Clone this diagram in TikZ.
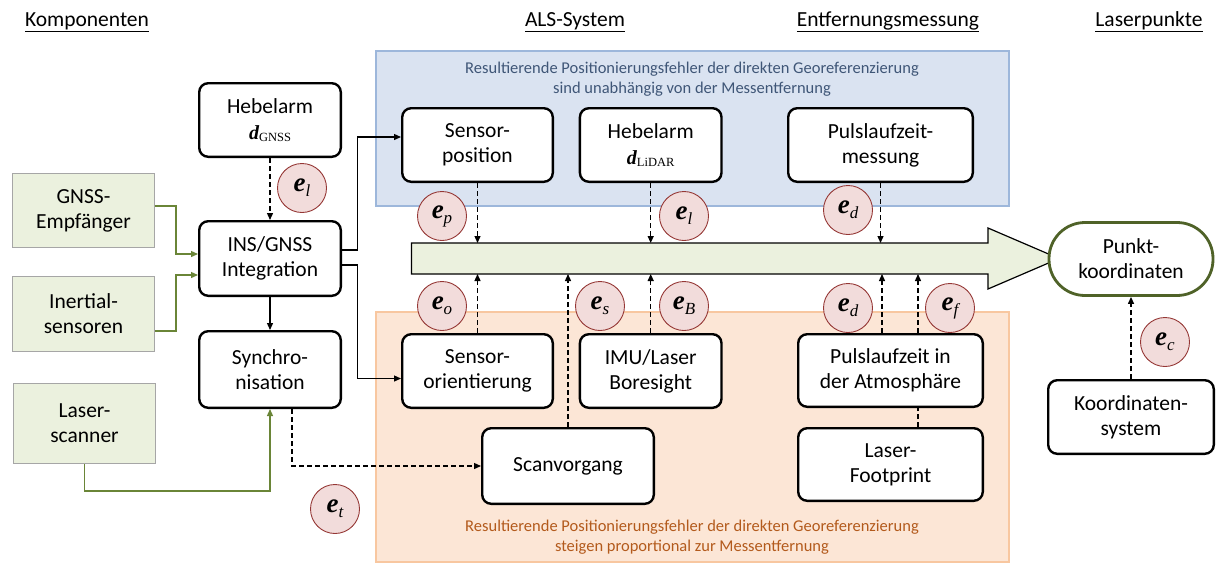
\documentclass[tikz,border=0pt]{standalone}
\usepackage{fontspec}
\setmainfont{Carlito}
\newfontfamily\serifm{Liberation Serif}
\usetikzlibrary{arrows.meta}
\definecolor{bluefill}{HTML}{DAE3F1}
\definecolor{blueline}{HTML}{9DB7DB}
\definecolor{bluetext}{HTML}{3F5677}
\definecolor{orfill}{HTML}{FCE6D6}
\definecolor{orline}{HTML}{F8C7A0}
\definecolor{ortext}{HTML}{B35A1C}
\definecolor{gfill}{HTML}{EBF1DE}
\definecolor{gline}{HTML}{A6A6A6}
\definecolor{garrow}{HTML}{6A8537}
\definecolor{pline}{HTML}{4F6228}
\definecolor{errfill}{HTML}{F2DCDB}
\definecolor{errline}{HTML}{953735}
\newcommand\mainfs{\fontsize{21.5}{25}\selectfont}
\newcommand\notefs{\fontsize{16.5}{20}\selectfont}
\newcommand\dsym[2]{{\serifm\fontsize{20}{20}\selectfont\bfseries\itshape #1}\raisebox{-2pt}{\serifm\fontsize{12.5}{12.5}\selectfont #2}}
\newcommand\esym[1]{{\serifm\fontsize{27}{27}\selectfont\bfseries\itshape e}\raisebox{-5pt}{\serifm\fontsize{17}{17}\selectfont\itshape #1}}
\begin{document}
\begin{tikzpicture}[x=1pt,y=-1pt,
  box/.style={draw=black, line width=2.4pt, rounded corners=9pt, fill=white, align=center, inner sep=0pt, font=\mainfs},
  gbox/.style={draw=gline, line width=1.2pt, fill=gfill, align=center, inner sep=0pt, font=\mainfs},
  err/.style={circle, draw=errline, line width=0.9pt, fill=errfill, minimum size=49pt, inner sep=0pt},
  conn/.style={line width=1.3pt, -{Triangle[length=7pt,width=6pt]}},
  dconn/.style={conn, dash pattern=on 5pt off 3pt},
  plain/.style={line width=1.3pt, dash pattern=on 5pt off 3pt},
  gconn/.style={conn, draw=garrow},
  head/.style={font=\mainfs, anchor=base}]
\useasboundingbox (0,0) rectangle (1216,563);

% regions
\draw[fill=bluefill, draw=blueline, line width=1.2pt] (376,51) rectangle (1009,206);
\draw[fill=orfill, draw=orline, line width=1.2pt] (376,312) rectangle (1009,562);
\node[font=\notefs, text=bluetext, align=center] (bluenote) at (692,79)
  {Resultierende Positionierungsfehler der direkten Georeferenzierung\\sind unabhängig von der Messentfernung};
\node[font=\notefs, text=ortext, align=center] (ornote) at (692,537)
  {Resultierende Positionierungsfehler der direkten Georeferenzierung\\steigen proportional zur Messentfernung};

% headings
\node[head] (h1) at (87,26) {\underline{Komponenten}};
\node[head] (h2) at (575,26) {\underline{ALS-System}};
\node[head] (h3) at (888,26) {\underline{Entfernungsmessung}};
\node[head] (h4) at (1149,26) {\underline{Laserpunkte}};

% big arrow
\draw[fill=gfill, draw=black, line width=1.2pt]
  (411.5,243) -- (988,243) -- (988,228) -- (1059,258.5) -- (988,289) -- (988,274) -- (411.5,274) -- cycle;
\coordinate (bodyT) at (0,243);
\coordinate (bodyB) at (0,274);

% component boxes
\node[gbox, minimum width=142, minimum height=74] (gnss) at (83.5,210.5) {GNSS-\\Empfänger};
\node[gbox, minimum width=142, minimum height=75] (iner) at (83.5,314) {Inertial-\\sensoren};
\node[gbox, minimum width=142, minimum height=80] (laser) at (84.5,423.5) {Laser-\\scanner};

\node[box, minimum width=141.6, minimum height=73.6] (hgnss) at (270,120) {Hebelarm\\[1pt]\dsym{d}{GNSS}};
\node[box, minimum width=141.6, minimum height=74.6] (ins) at (270,258.5) {INS/GNSS\\Integration};
\node[box, minimum width=141.6, minimum height=76.6] (sync) at (270,369.5) {Synchro-\\nisation};

\node[box, minimum width=150.6, minimum height=73.6] (spos) at (477.5,145) {Sensor-\\position};
\node[box, minimum width=141.6, minimum height=73.6] (hlidar) at (650.7,145) {Hebelarm\\[1pt]\dsym{d}{LiDAR}};
\node[box, minimum width=184.6, minimum height=73.6] (puls) at (880.5,145) {Pulslaufzeit-\\messung};

\node[box, minimum width=150.6, minimum height=73.6] (sori) at (477.5,371) {Sensor-\\orientierung};
\node[box, minimum width=141.6, minimum height=73.6] (imu) at (650.7,371) {IMU/Laser\\Boresight};
\node[box, minimum width=184.6, minimum height=72.6] (atm) at (890.5,370.5) {Pulslaufzeit in\\der Atmosphäre};
\node[box, minimum width=184.6, minimum height=72.6] (foot) at (890.5,464.5) {Laser-\\Footprint};
\node[box, minimum width=171.6, minimum height=75.6] (scan) at (568,466) {Scanvorgang};

\node[box, draw=pline, line width=2.8pt, rounded corners=36pt, minimum width=164, minimum height=73] (punkt) at (1131,259) {Punkt-\\koordinaten};
\node[box, minimum width=165.6, minimum height=73.6] (koord) at (1131,417) {Koordinaten-\\system};

% error circles
\node[err] (el1) at (302,188) {\esym{l}};
\node[err] (ep) at (442,216) {\esym{p}};
\node[err] (el2) at (684,216) {\esym{l}};
\node[err] (ed1) at (848,210) {\esym{d}};
\node[err] (eo) at (442,306) {\esym{o}};
\node[err] (es) at (600,306) {\esym{s}};
\node[err] (eB) at (684,306) {\esym{B}};
\node[err] (ed2) at (848,308) {\esym{d}};
\node[err] (ef) at (950,308) {\esym{f}};
\node[err] (ec) at (1165,342) {\esym{c}};
\node[err] (et) at (335,509) {\esym{t}};

% green connectors
\draw[gconn] ([yshift=4.5pt]gnss.east) -- ++(21,0) |- ([yshift=4.5pt]ins.west);
\draw[gconn] ([yshift=-17pt]iner.east) -- ++(21,0) |- ([yshift=-16.5pt]ins.west);
\draw[gconn] (laser.south) -- ++(0,27) -| (sync.south);

% solid connectors
\draw[conn] (ins.south) -- (sync.north);
\draw[conn] ([yshift=8.5pt]ins.east) -- ++(15.5,0) |- ([yshift=8pt]spos.west);
\draw[conn] ([yshift=-6.5pt]ins.east) -- ++(15.5,0) |- ([yshift=-7.5pt]sori.west);

% dashed connectors
\draw[dconn] (hgnss.south) -- (ins.north);
\draw[dconn] ([xshift=22pt]sync.south) |- (scan.west);
\draw[dconn] (spos.south) -- (spos.south |- bodyT);
\draw[dconn] (hlidar.south) -- (hlidar.south |- bodyT);
\draw[dconn] (puls.south) -- (puls.south |- bodyT);
\draw[dconn] (sori.north) -- (sori.north |- bodyB);
\draw[dconn] (scan.north) -- (scan.north |- bodyB);
\draw[dconn] (imu.north) -- (imu.north |- bodyB);
\draw[dconn] ([xshift=-8.5pt]atm.north) -- ([xshift=-8.5pt]atm.north |- bodyB);
\draw[plain] ([xshift=27.5pt]foot.north) -- ([xshift=27.5pt]atm.south);
\draw[dconn] ([xshift=27.5pt]atm.north) -- ([xshift=27.5pt]atm.north |- bodyB);
\draw[dconn] (koord.north) -- (punkt.south);
\end{tikzpicture}
\end{document}
